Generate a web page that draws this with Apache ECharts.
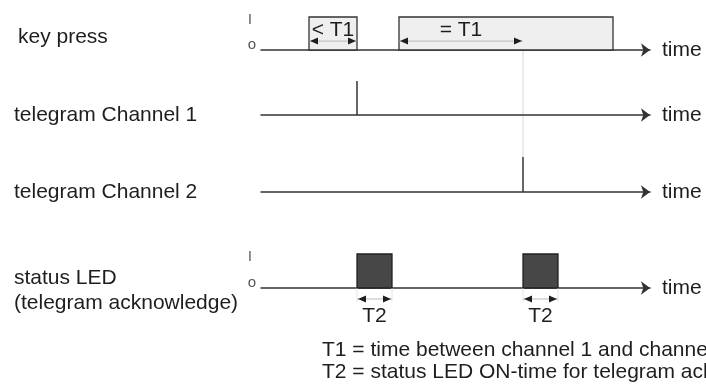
<!DOCTYPE html>
<html lang="en">
<head>
    <meta charset="UTF-8">
    <title>Timing diagram</title>
    <style>
        body{
            margin: 0;
            overflow: hidden;
            background: #fff;
        }
    </style>
</head>
<body>
<div id="main" style="width: 706px;height:392px;"></div>
<script src="https://cdn.jsdelivr.net/npm/echarts@6/dist/echarts.min.js"></script>
<script type="text/javascript">
    // time axis in arbitrary units
    var tMax = 389;
    var keyPress = [[48, 96], [138, 352]];      // key held: start, end
    var channel1 = [96];                        // telegram channel 1
    var channel2 = [262];                       // telegram channel 2
    var ledOn = [[96, 131], [262, 297]];        // status LED on: start, end
    var t1Spans = [[48, 96, '< T1'], [138, 262, '= T1']];
    var t2Spans = [[96, 131, 'T2'], [262, 297, 'T2']];
    var rowNames = ['key press', 'telegram Channel 1', 'telegram Channel 2', 'status LED\n(telegram acknowledge)'];
    var levelLabels = ['o', 'I'];
    var notes = ['T1 = time between channel 1 and channel 2', 'T2 = status LED ON-time for telegram acknowledge'];

    var font = '"Liberation Sans", Arial, sans-serif';
    var ink = '#1e1e1e';
    var gridTops = [17, 81, 157, 254];
    var gridHeights = [33, 34, 35, 34];

    function arrowHead(x, y, dir) {
        // small filled triangle, dir = -1 left, 1 right
        return {
            type: 'polygon',
            shape: {points: [[x, y], [x - dir * 8, y - 3.5], [x - dir * 8, y + 3.5]]},
            style: {fill: ink}
        };
    }

    var chart = echarts.init(document.getElementById('main'));

    var grids = [], xAxes = [], yAxes = [];
    for (var i = 0; i < 4; i++) {
        grids.push({left: 261, right: 56, top: gridTops[i], height: gridHeights[i]});
        xAxes.push({
            type: 'value', gridIndex: i, min: 0, max: tMax,
            axisLine: {show: true, symbol: ['none', 'arrow'], symbolSize: [10, 9], lineStyle: {color: '#333', width: 1.5}},
            axisTick: {show: false}, axisLabel: {show: false}, splitLine: {show: false},
            name: 'time', nameLocation: 'end', nameGap: 12,
            nameTextStyle: {fontSize: 21, color: ink, fontFamily: font}
        });
        var withLevels = (i === 0 || i === 3);
        yAxes.push({
            type: 'value', gridIndex: i, min: 0, max: 1, interval: 1,
            axisLine: {show: false}, axisTick: {show: false}, splitLine: {show: false},
            axisLabel: {
                show: withLevels, margin: 5,
                formatter: function (v) { return v === 1 ? '{hi|' + levelLabels[1] + '}' : '{lo|' + levelLabels[0] + '}'; },
                rich: {
                    hi: {fontSize: 14, color: '#555', fontFamily: font, padding: [7, 4, 0, 0]},
                    lo: {fontSize: 15, color: '#555', fontFamily: font, padding: [0, 0, 10, 0]}
                }
            }
        });
    }

    var option = {
        animation: false,
        grid: grids,
        xAxis: xAxes,
        yAxis: yAxes,
        series: [
            {
                // key press boxes
                type: 'custom', xAxisIndex: 0, yAxisIndex: 0,
                data: keyPress,
                renderItem: function (params, api) {
                    var a = api.coord([api.value(0), 1]);
                    var b = api.coord([api.value(1), 0]);
                    return {
                        type: 'rect',
                        shape: {x: a[0], y: a[1], width: b[0] - a[0], height: b[1] - a[1]},
                        style: {fill: '#efefef', stroke: '#333', lineWidth: 1.3}
                    };
                }
            },
            {
                // T1 dimension arrows
                type: 'custom', xAxisIndex: 0, yAxisIndex: 0,
                data: t1Spans,
                renderItem: function (params, api) {
                    var a = api.coord([api.value(0), 0.27]);
                    var b = api.coord([api.value(1), 0.27]);
                    var t = api.coord([(api.value(0) + api.value(1)) / 2, 0.6]);
                    return {
                        type: 'group',
                        children: [
                            {type: 'line', shape: {x1: a[0], y1: a[1], x2: b[0], y2: b[1]}, style: {stroke: '#aaa', lineWidth: 0.8}},
                            arrowHead(a[0] + 1, a[1], -1),
                            arrowHead(b[0] - 1, b[1], 1),
                            {type: 'text', x: t[0], y: t[1], style: {
                                text: t1Spans[params.dataIndex][2], fontSize: 21, fontFamily: font,
                                fill: ink, align: 'center', verticalAlign: 'middle'}}
                        ]
                    };
                }
            },
            {
                type: 'custom', xAxisIndex: 1, yAxisIndex: 1,
                data: channel1.map(function (t) { return [t]; }),
                renderItem: function (params, api) {
                    var a = api.coord([api.value(0), 0]);
                    var b = api.coord([api.value(0), 1]);
                    return {type: 'line', shape: {x1: a[0], y1: a[1], x2: b[0], y2: b[1]}, style: {stroke: '#333', lineWidth: 1.5}};
                }
            },
            {
                type: 'custom', xAxisIndex: 2, yAxisIndex: 2,
                data: channel2.map(function (t) { return [t]; }),
                renderItem: function (params, api) {
                    var a = api.coord([api.value(0), 0]);
                    var b = api.coord([api.value(0), 1]);
                    return {type: 'line', shape: {x1: a[0], y1: a[1], x2: b[0], y2: b[1]}, style: {stroke: '#333', lineWidth: 1.5}};
                }
            },
            {
                // LED on boxes
                type: 'custom', xAxisIndex: 3, yAxisIndex: 3,
                data: ledOn,
                renderItem: function (params, api) {
                    var a = api.coord([api.value(0), 1]);
                    var b = api.coord([api.value(1), 0]);
                    return {
                        type: 'rect',
                        shape: {x: a[0], y: a[1], width: b[0] - a[0], height: b[1] - a[1]},
                        style: {fill: '#474747', stroke: '#222', lineWidth: 1.3}
                    };
                }
            },
            {
                // T2 dimension arrows below the LED pulses
                type: 'custom', xAxisIndex: 3, yAxisIndex: 3,
                data: t2Spans,
                renderItem: function (params, api) {
                    var a = api.coord([api.value(0), 0]);
                    var b = api.coord([api.value(1), 0]);
                    var y = a[1] + 11;
                    return {
                        type: 'group',
                        children: [
                            {type: 'line', shape: {x1: a[0], y1: a[1], x2: a[0], y2: a[1] + 14}, style: {stroke: '#ddd', lineWidth: 0.8}},
                            {type: 'line', shape: {x1: b[0], y1: b[1], x2: b[0], y2: b[1] + 14}, style: {stroke: '#ddd', lineWidth: 0.8}},
                            {type: 'line', shape: {x1: a[0], y1: y, x2: b[0], y2: y}, style: {stroke: '#aaa', lineWidth: 0.8}},
                            arrowHead(a[0] + 1, y, -1),
                            arrowHead(b[0] - 1, y, 1),
                            {type: 'text', x: (a[0] + b[0]) / 2, y: a[1] + 28, style: {
                                text: t2Spans[params.dataIndex][2], fontSize: 21, fontFamily: font,
                                fill: ink, align: 'center', verticalAlign: 'middle'}}
                        ]
                    };
                }
            }
        ]
    };
    chart.setOption(option);

    // labels on the left, footnotes, and the thin guide from the T1 arrow to channel 2
    var rowY = [37, 115, 192, 291];
    var labels = rowNames.map(function (name, i) {
        return {
            type: 'text', left: i === 0 ? 18 : 14, top: rowY[i] - (i === 3 ? 25 : 12),
            style: {text: name, fontSize: 21, lineHeight: 25, fontFamily: font, fill: ink}
        };
    });
    notes.forEach(function (n, i) {
        labels.push({
            type: 'text', left: 322, top: 340 + i * 22,
            style: {text: n, fontSize: 21, fontFamily: font, fill: ink}
        });
    });
    var g1 = chart.convertToPixel({gridIndex: 0}, [channel2[0], 0.27]);
    var g2 = chart.convertToPixel({gridIndex: 2}, [channel2[0], 1]);
    labels.push({
        type: 'line', z: -1,
        shape: {x1: g1[0], y1: g1[1], x2: g2[0], y2: g2[1]},
        style: {stroke: '#ccc', lineWidth: 0.8}
    });
    chart.setOption({graphic: labels});
</script>
</body>
</html>
